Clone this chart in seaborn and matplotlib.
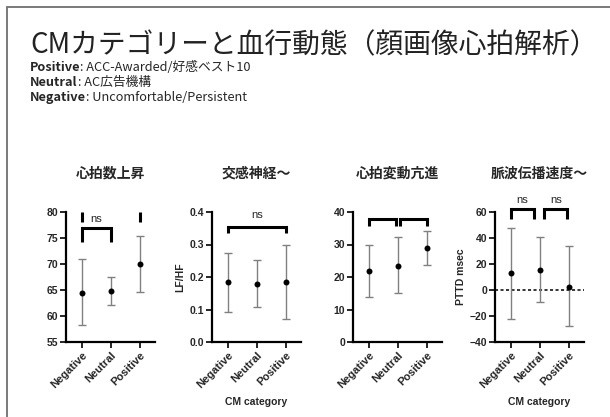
import numpy as np
import matplotlib
matplotlib.use("Agg")
import matplotlib.pyplot as plt
import seaborn as sns

sns.set_style("white")
plt.rcParams["font.family"] = ["Liberation Sans", "Noto Sans CJK JP", "DejaVu Sans"]

# ------------------------------------------------------------
# Data (mean and error-bar ends)
# ------------------------------------------------------------
categories = ["Negative", "Neutral", "Positive"]

hr_mean = [64.5, 64.8, 70.0]
hr_low = [58.2, 62.1, 64.7]
hr_high = [70.9, 67.5, 75.4]

lfhf_mean = [0.185, 0.180, 0.184]
lfhf_low = [0.093, 0.108, 0.070]
lfhf_high = [0.275, 0.253, 0.298]

hrv_mean = [22.0, 23.5, 29.0]
hrv_low = [14.0, 15.0, 23.8]
hrv_high = [30.0, 32.2, 34.2]

pttd_mean = [13.0, 15.5, 2.5]
pttd_low = [-22.0, -9.5, -28.0]
pttd_high = [48.0, 41.0, 33.5]

panel_titles = ["心拍数上昇", "交感神経〜", "心拍変動亢進", "脈波伝播速度〜"]
y_labels = ["", "LF/HF", "", "PTTD msec"]
x_labels = ["", "CM category", "", "CM category"]
y_limits = [(55, 80), (0, 0.4), (0, 40), (-40, 60)]
y_ticks = [[55, 60, 65, 70, 75, 80], [0.0, 0.1, 0.2, 0.3, 0.4],
           [0, 10, 20, 30, 40], [-40, -20, 0, 20, 40, 60]]

# brackets: (x start, x end, bar height, leg bottom, text, text height)
brackets = [
    [(0, 2, 80.0, 78.1, "", 0), (0, 1, 76.9, 74.3, "ns", 78.6)],
    [(0, 2, 0.355, 0.336, "ns", 0.39)],
    [(0, 0.93, 37.9, 35.7, "", 0), (1.07, 2, 37.9, 35.7, "", 0)],
    [(0, 0.8, 62, 54.6, "ns", 69), (1.15, 1.95, 62, 54.6, "ns", 69)],
]

panels = [
    (hr_mean, hr_low, hr_high),
    (lfhf_mean, lfhf_low, lfhf_high),
    (hrv_mean, hrv_low, hrv_high),
    (pttd_mean, pttd_low, pttd_high),
]

# ------------------------------------------------------------
# Figure
# ------------------------------------------------------------
fig = plt.figure(figsize=(6.1, 4.17), dpi=100)

# overlay axes for slide text and frame
bg = fig.add_axes([0, 0, 1, 1])
bg.axis("off")
bg.set_xlim(0, 1)
bg.set_ylim(0, 1)

# slide frame (top and left edges)
bg.plot([6.5 / 610, 6.5 / 610], [0, 1 - 6.5 / 417], color="#7a7a7a", lw=1.4)
bg.plot([6.5 / 610, 1], [1 - 6.5 / 417, 1 - 6.5 / 417], color="#7a7a7a", lw=1.4)

jp = ["Noto Sans CJK JP", "DejaVu Sans"]
bg.text(30 / 610, 1 - 45 / 417, "CMカテゴリーと血行動態（顔画像心拍解析）",
        family=jp, fontsize=20, va="center", ha="left", color="#222222")

header = [("Positive", ": ACC-Awarded/好感ベスト10"),
          ("Neutral", ": AC広告機構"),
          ("Negative", ": Uncomfortable/Persistent")]
for k, (bold, rest) in enumerate(header):
    t = bg.text(30 / 610, 1 - (67.5 + 15 * k) / 417, bold, family=jp,
                fontsize=9.2, fontweight="bold", va="center", ha="left")
    bg.annotate(rest, xy=(1, 0.5), xycoords=t, va="center", ha="left",
                family=jp, fontsize=9.2, annotation_clip=False)

lefts = [66, 212, 353, 495]
for p in range(4):
    ax = fig.add_axes([lefts[p] / 610, 1 - 342 / 417, 89 / 610, 130 / 417])
    mean, low, high = panels[p]
    mean = np.array(mean)
    err = [mean - np.array(low), np.array(high) - mean]

    ax.errorbar(range(3), mean, yerr=err, fmt="none", ecolor="#808080",
                elinewidth=1.0, capsize=3, capthick=1.0, zorder=2)
    sns.stripplot(x=categories, y=mean, jitter=False, color="black",
                  size=4.3, ax=ax, zorder=3)

    if p == 3:
        ax.axhline(0, color="black", lw=1.1, ls=(0, (2, 1.6)), zorder=1)

    for (x0, x1, yb, yl, txt, yt) in brackets[p]:
        if p == 0 and x1 == 2:
            # only the legs of this comparison are left on the slide
            ax.plot([x0, x0], [yl, yb], color="black", lw=2.2,
                    solid_capstyle="butt")
            ax.plot([x1, x1], [yl, yb], color="black", lw=2.2,
                    solid_capstyle="butt")
            continue
        ax.plot([x0, x0, x1, x1], [yl, yb, yb, yl], color="black", lw=2.2,
                solid_capstyle="butt", solid_joinstyle="miter", clip_on=False)
        if txt:
            ax.text((x0 + x1) / 2, yt, txt, ha="center", va="center",
                    fontsize=8, clip_on=False)

    ax.set_xlim(-0.55, 2.52)
    ax.set_ylim(*y_limits[p])
    ax.set_yticks(y_ticks[p])
    if p == 1:
        ax.set_yticklabels([f"{v:.1f}" for v in y_ticks[p]])
    for s in ["top", "right"]:
        ax.spines[s].set_visible(False)
    for s in ["left", "bottom"]:
        ax.spines[s].set_linewidth(1.6)
        ax.spines[s].set_color("black")
    ax.tick_params(axis="both", direction="out", length=4, width=1.4,
                   labelsize=7.5, pad=1.5, left=True, bottom=True)
    for lab in ax.get_yticklabels():
        lab.set_fontweight("bold")
    ax.set_xticks(range(3))
    ax.set_xticklabels(categories, rotation=45, ha="right",
                       rotation_mode="anchor", fontweight="bold", fontsize=8)

    ax.set_ylabel(y_labels[p], fontsize=7.5, fontweight="bold", labelpad=3)
    ax.set_xlabel(x_labels[p], fontsize=7.5, fontweight="bold", labelpad=5)
    ax.set_title(panel_titles[p], family=jp, fontsize=10, fontweight="bold",
                 pad=25)

fig.savefig("out.png", dpi=100)
